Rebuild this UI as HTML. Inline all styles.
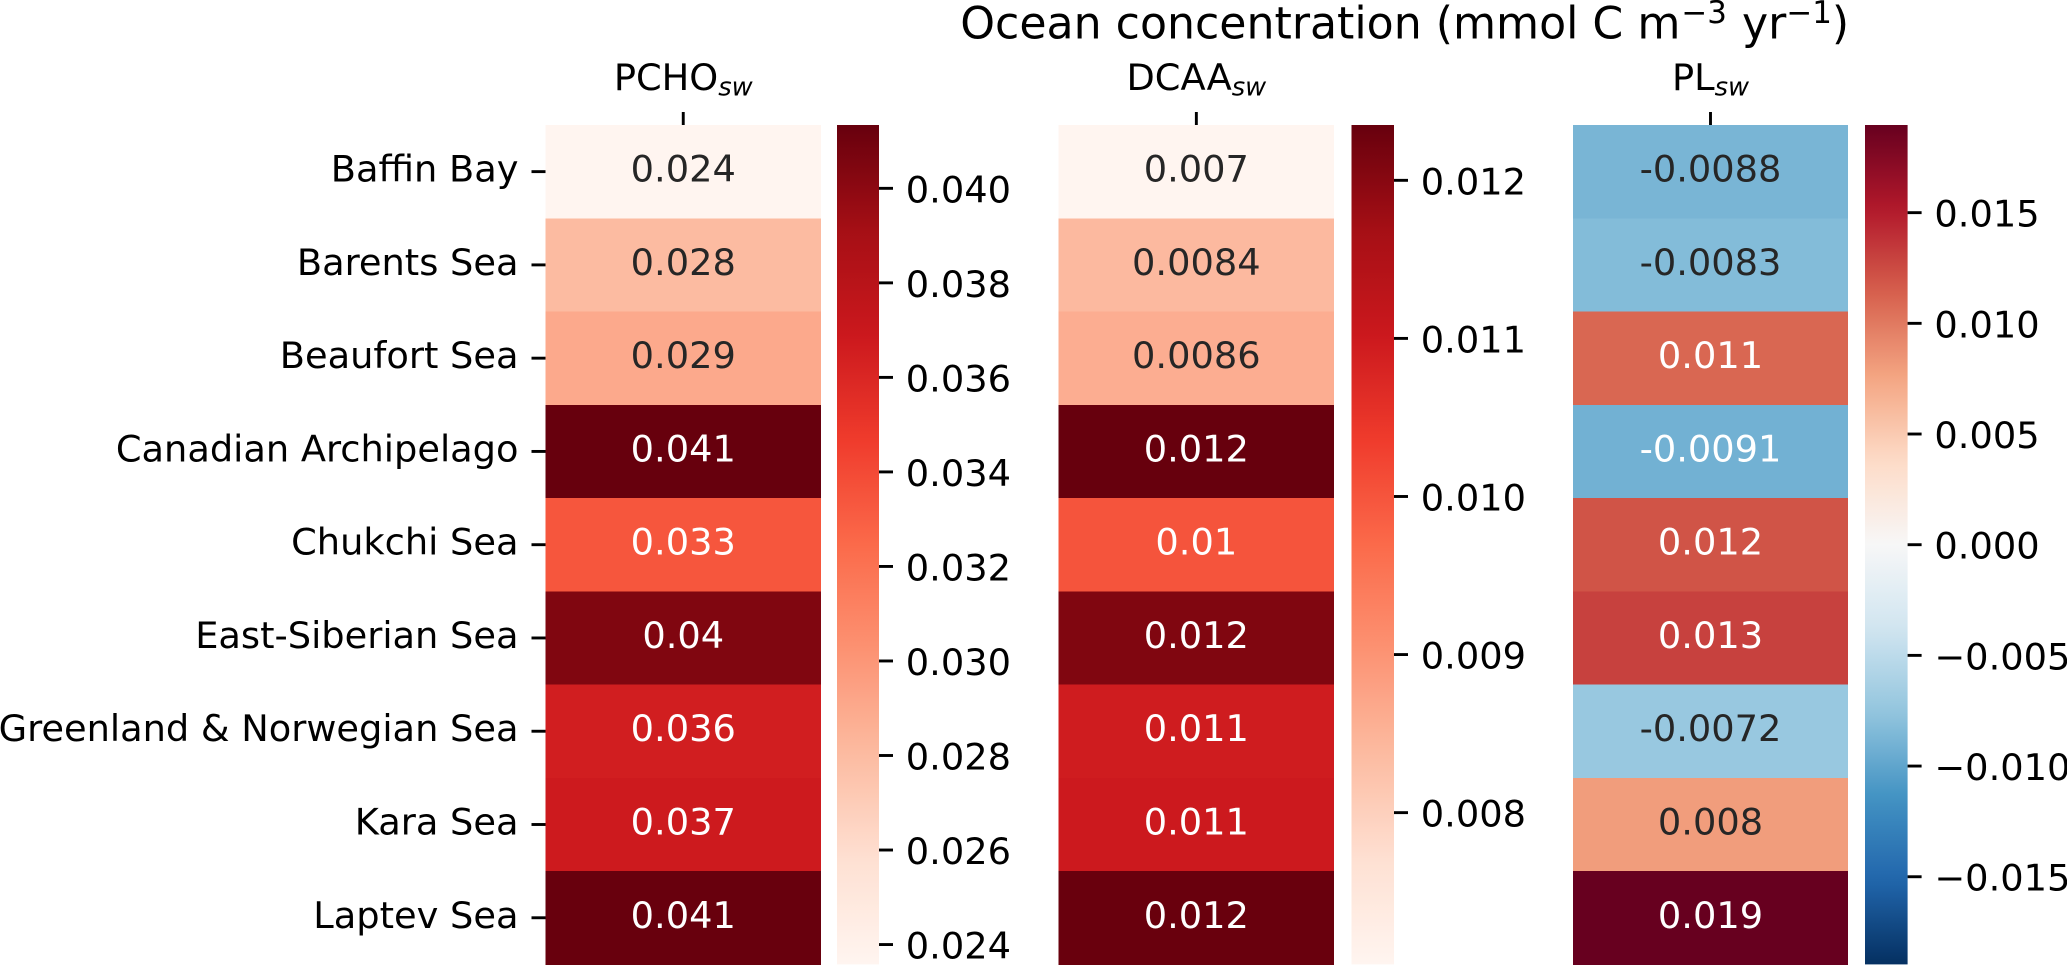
<!DOCTYPE html>
<html lang="en">
<head>
<meta charset="utf-8">
<title>Ocean concentration heatmaps</title>
<style>
  html, body { margin: 0; padding: 0; background: #fff; }
  svg { display: block; }
  text { font-family: "DejaVu Sans", "Liberation Sans", sans-serif; }
</style>
</head>
<body>
<svg id="chart" width="2067" height="965" viewBox="0 0 2067 965" xmlns="http://www.w3.org/2000/svg">
  <text x="1404.7" y="38.5" font-size="44.2" text-anchor="middle" fill="#000">Ocean concentration (mmol C m<tspan font-size="30.9" dy="-15.5" dx="1">−3</tspan><tspan dy="15.5" dx="1"> yr</tspan><tspan font-size="30.9" dy="-15.5">−1</tspan><tspan dy="15.5">)</tspan></text>
</svg>
<script>
// ---- chart data ----
const regions = ["Baffin Bay", "Barents Sea", "Beaufort Sea", "Canadian Archipelago", "Chukchi Sea", "East-Siberian Sea", "Greenland & Norwegian Sea", "Kara Sea", "Laptev Sea"];
const pchoValues = [0.02358, 0.02800, 0.02900, 0.04134, 0.03340, 0.04045, 0.03650, 0.03680, 0.04130];
const dcaaValues = [0.00704, 0.00840, 0.00860, 0.01235, 0.01000, 0.01208, 0.01095, 0.01100, 0.01233];
const plValues = [-0.0088, -0.0083, 0.0110, -0.0091, 0.0120, 0.0130, -0.0072, 0.0080, 0.01896];
const pchoTicks = [0.024, 0.026, 0.028, 0.030, 0.032, 0.034, 0.036, 0.038, 0.040];
const pchoTickLabels = ["0.024", "0.026", "0.028", "0.030", "0.032", "0.034", "0.036", "0.038", "0.040"];
const dcaaTicks = [0.008, 0.009, 0.010, 0.011, 0.012];
const dcaaTickLabels = ["0.008", "0.009", "0.010", "0.011", "0.012"];
const plTicks = [-0.015, -0.010, -0.005, 0, 0.005, 0.010, 0.015];
const plTickLabels = ["−0.015", "−0.010", "−0.005", "0.000", "0.005", "0.010", "0.015"];
const redsColors = ["#fff5f0", "#fee0d2", "#fcbba1", "#fc9272", "#fb6a4a", "#ef3b2c", "#cb181d", "#a50f15", "#67000d"];
const rdBuColors = ["#053061", "#2166ac", "#4393c3", "#92c5de", "#d1e5f0", "#f7f7f7", "#fddbc7", "#f4a582", "#d6604d", "#b2182b", "#67001f"];

// ---- layout ----
const svg = document.getElementById("chart");
const NS = "http://www.w3.org/2000/svg";
const plotTop = 125, plotBottom = 964.4;
const tickLen = 14, tickPad = 12.8, tickWidth = 2.9, fontSize = 36.75;

function make(tag, attrs, parent, text) {
  const el = document.createElementNS(NS, tag);
  for (const k in attrs) el.setAttribute(k, attrs[k]);
  if (text !== undefined) el.textContent = text;
  parent.appendChild(el);
  return el;
}
function hexRgb(h) {
  return [parseInt(h.slice(1, 3), 16), parseInt(h.slice(3, 5), 16), parseInt(h.slice(5, 7), 16)];
}
function colormap(colors, t) {
  const c = Math.max(0, Math.min(1, t)) * (colors.length - 1);
  const i = Math.min(Math.floor(c), colors.length - 2);
  const f = c - i;
  const a = hexRgb(colors[i]), b = hexRgb(colors[i + 1]);
  return [0, 1, 2].map(j => Math.round(a[j] + (b[j] - a[j]) * f));
}
function css(rgb) { return "rgb(" + rgb.join(",") + ")"; }
function annotationColor(rgb) {
  const lin = rgb.map(v => { v /= 255; return v <= 0.03928 ? v / 12.92 : Math.pow((v + 0.055) / 1.055, 2.4); });
  const lum = 0.2126 * lin[0] + 0.7152 * lin[1] + 0.0722 * lin[2];
  return lum > 0.408 ? "#262626" : "#ffffff";
}
function formatValue(v) { return String(parseFloat(v.toPrecision(2))); }
function rowBand(i, n) {
  const h = (plotBottom - plotTop) / n;
  return { y: plotTop + i * h, h: h };
}

function drawPanel(cfg) {
  const values = cfg.values;
  const minV = cfg.centered ? -Math.max(...values.map(Math.abs)) : Math.min(...values);
  const maxV = cfg.centered ? Math.max(...values.map(Math.abs)) : Math.max(...values);
  const norm = v => (v - minV) / (maxV - minV);
  const barY = v => plotBottom - norm(v) * (plotBottom - plotTop);

  const panel = make("g", {}, svg);
  
  

  // cells and annotations
  values.forEach((v, i) => {
    const band = rowBand(i, values.length);
    const rgb = colormap(cfg.colors, norm(v));
    const cell = make("rect", { x: cfg.x0, y: band.y, width: cfg.x1 - cfg.x0, height: band.h + 0.4, fill: css(rgb), "shape-rendering": "crispEdges" }, panel);
    
    
  });
  values.forEach((v, i) => {
    const band = rowBand(i, values.length);
    const rgb = colormap(cfg.colors, norm(v));
    const label = make("text", { x: (cfg.x0 + cfg.x1) / 2, y: band.y + band.h / 2 + 10, "text-anchor": "middle", "font-size": fontSize, fill: annotationColor(rgb) }, panel, formatValue(v));
    
    
  });

  // column tick and label
  const cx = (cfg.x0 + cfg.x1) / 2;
  const colTick = make("line", { x1: cx, x2: cx, y1: plotTop - 13, y2: plotTop, stroke: "#000", "stroke-width": tickWidth }, panel);
  
  
  const colLabel = make("text", { x: cx, y: 90, "text-anchor": "middle", "font-size": fontSize, fill: "#000" }, panel);
  
  
  make("tspan", {}, colLabel, cfg.title);
  make("tspan", { "font-size": fontSize * 0.7, "font-style": "italic", dy: 5.6 }, colLabel, "sw");

  // colorbar
  const gradId = cfg.key + "-gradient";
  const defs = make("defs", {}, panel);
  const grad = make("linearGradient", { id: gradId, x1: 0, y1: 1, x2: 0, y2: 0 }, defs);
  for (let s = 0; s <= 64; s++) {
    make("stop", { offset: s / 64, "stop-color": css(colormap(cfg.colors, s / 64)) }, grad);
  }
  const bar = make("rect", { x: cfg.barX0, y: plotTop, width: cfg.barX1 - cfg.barX0, height: plotBottom - plotTop, fill: "url(#" + gradId + ")" }, panel);
  
  

  cfg.ticks.forEach((t, i) => {
    const y = barY(t);
    const tick = make("line", { x1: cfg.barX1, x2: cfg.barX1 + tickLen, y1: y, y2: y, stroke: "#000", "stroke-width": tickWidth }, panel);
    
    
    const lab = make("text", { x: cfg.barX1 + tickLen + tickPad, y: y + 14, "font-size": fontSize, fill: "#000" }, panel, cfg.tickLabels[i]);
    
    
  });
}

// y axis (shared region labels on the left panel)
const yAxis = make("g", {}, svg);


regions.forEach((r, i) => {
  const band = rowBand(i, regions.length);
  const cy = band.y + band.h / 2;
  const tick = make("line", { x1: 545.5 - tickLen, x2: 545.5, y1: cy, y2: cy, stroke: "#000", "stroke-width": tickWidth }, yAxis);
  
  
  const lab = make("text", { x: 518.5, y: cy + 10, "text-anchor": "end", "font-size": fontSize, fill: "#000" }, yAxis, r);
  
  
});

drawPanel({ key: "pcho", title: "PCHO", values: pchoValues, colors: redsColors, centered: false, x0: 545.5, x1: 821, barX0: 837, barX1: 879, ticks: pchoTicks, tickLabels: pchoTickLabels });
drawPanel({ key: "dcaa", title: "DCAA", values: dcaaValues, colors: redsColors, centered: false, x0: 1058.7, x1: 1334, barX0: 1351.5, barX1: 1394, ticks: dcaaTicks, tickLabels: dcaaTickLabels });
drawPanel({ key: "pl", title: "PL", values: plValues, colors: rdBuColors, centered: true, x0: 1573, x1: 1848, barX0: 1865, barX1: 1907.6, ticks: plTicks, tickLabels: plTickLabels });
</script>
</body>
</html>
